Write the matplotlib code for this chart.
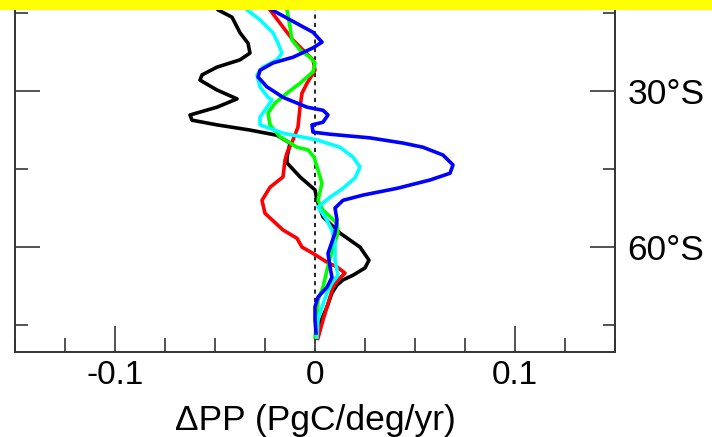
import matplotlib
matplotlib.use('Agg')
import matplotlib.pyplot as plt
from matplotlib.ticker import MultipleLocator, FixedLocator
from matplotlib.patches import Rectangle

plt.rcParams['font.family'] = ['Liberation Sans', 'DejaVu Sans']

# latitude (degrees south) and delta PP (PgC/deg/yr) for each curve
black_lat = [12.5, 14.4, 15.8, 18.8, 20.8, 22.7, 24.0, 25.4, 26.9, 27.9, 29.8, 31.5, 33.1, 34.6,
             35.6, 36.5, 37.5, 38.5, 40.0, 42.7, 43.8, 46.5, 49.0, 51.0, 54.2, 57.3, 60.0, 62.5,
             64.0, 65.4, 66.3, 67.3, 68.8, 71.5, 74.6, 77.5]
black_pp = [-0.0515, -0.0485, -0.0415, -0.0375, -0.0335, -0.0325, -0.0375, -0.049, -0.0565, -0.0575,
            -0.049, -0.039, -0.049, -0.0625, -0.0615, -0.049, -0.0325, -0.019, -0.0125, -0.014,
            -0.014, -0.0075, 0.0, 0.001, 0.004, 0.0125, 0.0225, 0.027, 0.025, 0.019, 0.014, 0.011,
            0.0085, 0.006, 0.0025, 0.001]

red_lat = [12.5, 14.4, 17.7, 20.2, 22.1, 24.0, 26.0, 28.5, 30.4, 33.1, 36.9, 39.4, 41.9, 43.3, 46.5,
           48.5, 51.0, 53.5, 56.7, 58.3, 60.0, 61.2, 62.9, 63.8, 65.0, 66.3, 67.7, 69.6, 71.5, 74.0, 77.5]
red_pp = [-0.025, -0.0225, -0.016, -0.011, -0.006, -0.001, 0.0, -0.004, -0.0065, -0.0075, -0.0085,
          -0.011, -0.014, -0.015, -0.016, -0.0225, -0.0265, -0.025, -0.016, -0.009, -0.0065, -0.001,
          0.006, 0.011, 0.015, 0.0115, 0.009, 0.0075, 0.006, 0.004, 0.0015]

green_lat = [12.5, 14.4, 17.7, 20.2, 22.1, 23.5, 24.6, 26.3, 28.5, 30.4, 32.3, 34.2, 36.5, 38.8, 40.8,
             41.3, 42.7, 45.2, 47.7, 51.0, 52.9, 55.4, 57.3, 60.6, 64.4, 67.7, 70.2, 73.5, 77.3]
green_pp = [-0.014, -0.014, -0.0125, -0.0115, -0.0075, -0.0025, 0.0, -0.001, -0.0075, -0.014, -0.02,
            -0.0235, -0.0225, -0.0175, -0.009, -0.0035, -0.0005, 0.0015, 0.0035, 0.0015, 0.004, 0.011,
            0.0115, 0.0085, 0.006, 0.004, 0.0015, 0.001, 0.0]

cyan_lat = [12.5, 14.4, 16.3, 18.8, 20.8, 22.7, 24.0, 25.4, 26.9, 29.2, 31.2, 31.7, 33.1, 35.0, 36.5,
            38.1, 39.4, 40.8, 42.7, 44.6, 46.7, 48.7, 50.4, 52.3, 54.2, 56.7, 59.2, 62.5, 65.4, 66.9,
            68.8, 71.5, 74.0, 77.3]
cyan_pp = [-0.036, -0.034, -0.0275, -0.021, -0.0185, -0.0165, -0.019, -0.026, -0.029, -0.0275, -0.0235,
           -0.0215, -0.024, -0.0275, -0.0275, -0.016, 0.001, 0.0125, 0.019, 0.0225, 0.02, 0.014, 0.0075,
           0.0015, 0.005, 0.0085, 0.01, 0.01, 0.0115, 0.0085, 0.006, 0.0035, 0.0015, 0.001]

blue_lat = [12.5, 14.4, 16.3, 18.7, 20.6, 21.7, 23.5, 24.6, 26.0, 27.3, 29.2, 31.2, 33.1, 33.7, 34.6,
            36.0, 36.5, 37.9, 38.3, 39.0, 40.0, 40.8, 42.3, 44.2, 45.8, 47.1, 48.7, 50.0, 51.0, 52.5,
            54.8, 57.3, 61.2, 63.8, 65.8, 67.7, 69.6, 71.5, 74.0, 76.5]
blue_pp = [-0.0265, -0.0215, -0.0125, -0.001, 0.0035, -0.001, -0.011, -0.021, -0.0275, -0.0285, -0.024,
           -0.016, -0.004, 0.004, 0.0065, 0.004, -0.0015, -0.001, 0.0075, 0.0275, 0.044, 0.054, 0.064,
           0.069, 0.0675, 0.0575, 0.041, 0.024, 0.014, 0.01, 0.011, 0.01, 0.0065, 0.0075, 0.0085,
           0.006, 0.0015, 0.0, 0.0, 0.0005]

major_lats = [30, 60]
major_labels = ['30°S', '60°S']
minor_lats = [15, 45, 75]

fig = plt.figure(figsize=(7.12, 4.37), dpi=100)
ax = fig.add_axes([15 / 712, 1 - 351.7 / 437, 600 / 712, 351.7 / 437])

ax.axvline(0, color='black', linestyle=(0, (2.5, 2.5)), linewidth=1.2, zorder=1)

lw = 2.6
ax.plot(black_pp, black_lat, color='black', linewidth=lw)
ax.plot(red_pp, red_lat, color='#ff0000', linewidth=lw)
ax.plot(green_pp, green_lat, color='#00ff00', linewidth=lw)
ax.plot(cyan_pp, cyan_lat, color='#00ffff', linewidth=lw)
ax.plot(blue_pp, blue_lat, color='#0000ff', linewidth=lw)

ax.set_xlim(-0.15, 0.15)
ax.set_ylim(80.1, 12.5)

ax.xaxis.set_major_locator(FixedLocator([-0.1, 0, 0.1]))
ax.set_xticklabels(['-0.1', '0', '0.1'])
ax.xaxis.set_minor_locator(MultipleLocator(0.025))
ax.yaxis.set_major_locator(FixedLocator(major_lats))
ax.set_yticklabels(major_labels)
ax.yaxis.set_minor_locator(FixedLocator(minor_lats))

tc = '#444444'
ax.tick_params(axis='x', which='both', direction='in', top=False, bottom=True, width=1.3, color=tc,
               labelsize=24, pad=6)
ax.tick_params(axis='x', which='major', length=19)
ax.tick_params(axis='x', which='minor', length=10)
ax.tick_params(axis='y', which='both', direction='in', left=True, right=True, labelleft=False,
               labelright=True, width=1.3, color=tc, labelsize=25.5, pad=9)
ax.tick_params(axis='y', which='major', length=18)
ax.tick_params(axis='y', which='minor', length=9)

for side in ['left', 'right', 'bottom']:
    ax.spines[side].set_color('#333333')
    ax.spines[side].set_linewidth(1.4)
ax.spines['top'].set_visible(False)

ax.set_xlabel('ΔPP (PgC/deg/yr)', fontsize=25.5, labelpad=9)

fig.patches.append(Rectangle((0, 1 - 10 / 437), 1, 10 / 437, transform=fig.transFigure,
                             facecolor='#ffff00', edgecolor='none', zorder=10))

fig.savefig('out.png', dpi=100)
